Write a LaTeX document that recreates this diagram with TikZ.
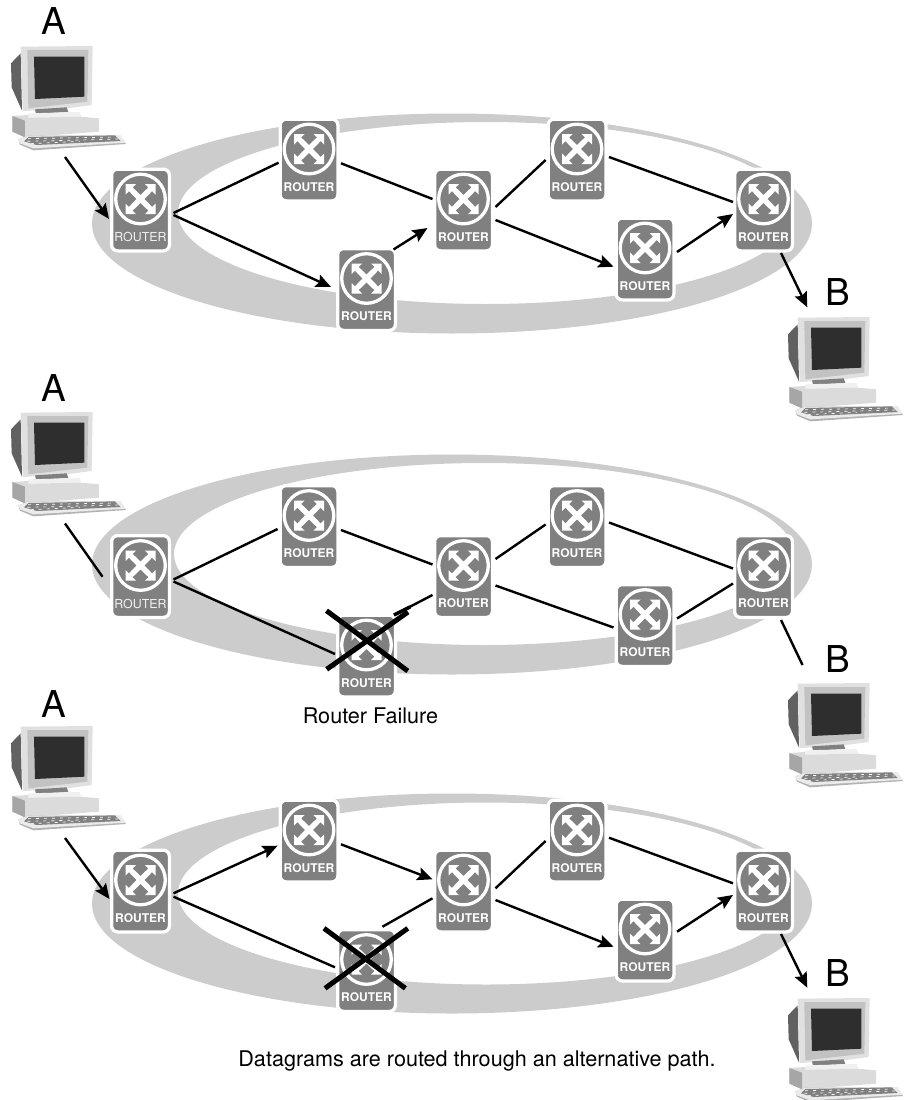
\documentclass[tikz,border=0pt]{standalone}
\usepackage{fontspec}
\setmainfont{TeX Gyre Heros}
\usetikzlibrary{arrows.meta}
\definecolor{ringc}{HTML}{CCCCCC}
\definecolor{routerc}{HTML}{808080}
\tikzset{
  ringfill/.style={fill=ringc,even odd rule},
  routerbox/.style={rectangle,minimum width=57.75pt,minimum height=81.75pt,inner sep=0pt,fill=routerc,draw=white,line width=3.25pt,rounded corners=6pt},
  routerlabel/.style={text=white,inner sep=0pt,font=\fontsize{12}{12}\selectfont\bfseries},
  routerthin/.style={text=black!6,inner sep=0pt,font=\fontsize{12.4}{12}\selectfont},
  pcbox/.style={rectangle,minimum width=116pt,minimum height=106pt,inner sep=0pt},
  conn/.style={line width=2.4pt,black},
  arr/.style={conn,-{Stealth[length=15pt,width=13pt,inset=2.5pt]}},
  crossout/.style={line width=5pt,black},
  bigletter/.style={inner sep=0pt,font=\fontsize{37}{37}\selectfont},
  caption/.style={inner sep=0pt,anchor=base,font=\fontsize{21.6}{23}\selectfont}
}
\newcommand{\routerat}[4][routerlabel]{%
  \node[routerbox] (#2) at (#3,#4) {};
  \begin{scope}[shift={(#2.center)}]
    \draw[white,line width=3.3pt] (0,-11) circle (24.8);
    \begin{scope}[shift={(0,-11)}]
    \fill[white] (15,-15) -- (15,-4.5) -- (11.6,-7.9) -- (3.9,0) -- (11.6,7.9) -- (15,4.5) -- (15,15)
      -- (4.5,15) -- (7.9,11.6) -- (0,3.9) -- (-7.9,11.6) -- (-4.5,15) -- (-15,15) -- (-15,4.5)
      -- (-11.6,7.9) -- (-3.9,0) -- (-11.6,-7.9) -- (-15,-4.5) -- (-15,-15) -- (-4.5,-15)
      -- (-7.9,-11.6) -- (0,-3.9) -- (7.9,-11.6) -- (4.5,-15) -- cycle;
    \end{scope}
    \node[#1] (#2t) at (0,27) {ROUTER};
  \end{scope}}
\newcommand{\computerat}[3]{%
  \node[pcbox] (#1) at (#2+68,#3+100) {};
  \begin{scope}[shift={(#2,#3)},scale=1/3]
    \fill[black!62] (33,190) -- (62,160) -- (66,332) -- (35,262) -- cycle;
    \fill[black!12] (62,140) -- (278,138) -- (275,315) -- (200,325) -- (68,333) -- cycle;
    \fill[black!24] (82,150) -- (265,150) -- (262,305) -- (85,325) -- cycle;
    \fill[black!82] (102,170) -- (253,170) -- (253,290) -- (105,297) -- cycle;
    \fill[black!50] (105,328) -- (200,322) -- (205,336) -- (108,341) -- cycle;
    \fill[black!6] (85,340) -- (240,336) -- (243,350) -- (85,353) -- cycle;
    \fill[black!14] (37,348) -- (85,345) -- (85,353) -- (243,350) -- (297,355) -- (297,395) -- (75,412) -- (37,395) -- cycle;
    \fill[black!35] (37,348) -- (75,362) -- (75,412) -- (37,395) -- cycle;
    \fill[black!30] (55,418) -- (85,407) -- (360,405) -- (378,432) -- (100,451) -- (60,434) -- cycle;
    \fill[black!8] (55,418) -- (85,407) -- (360,405) -- (378,428) -- (100,445) -- (60,430) -- cycle;
    \fill[black!50] (72,424) -- (85,411) -- (345,406) -- (362,423) -- (110,435) -- cycle;
    \draw[white,line width=0.7pt,dash pattern=on 3pt off 5pt] (84,416) -- (350,411);
    \draw[white,line width=0.7pt,dash pattern=on 3pt off 5pt] (82,424) -- (356,417);
    \draw[white,line width=0.7pt,dash pattern=on 3pt off 5pt] (92,431) -- (240,424);
  \end{scope}}
\begin{document}
\begin{tikzpicture}[x=1pt,y=-1pt]
\useasboundingbox (0,0) rectangle (905,1100);
% rings
\fill[ringfill] (452,223.5) ellipse [x radius=360,y radius=110] (486,213) ellipse [x radius=308,y radius=91];
\fill[ringfill] (452,564.5) ellipse [x radius=360,y radius=110] (484,554) ellipse [x radius=310,y radius=91];
\fill[ringfill] (452,903.5) ellipse [x radius=360,y radius=110] (486,893.5) ellipse [x radius=308,y radius=91];
% computers
\computerat{aone}{0}{0}
\computerat{atwo}{0}{366}
\computerat{athree}{0}{680}
\computerat{bone}{777}{271}
\computerat{btwo}{777}{637}
\computerat{bthree}{777}{952}
% panel 1 routers
\routerat[routerthin]{ar}{140.5}{210}
\routerat{br}{309}{160}
\routerat{cr}{463.5}{210}
\routerat{dr}{577}{160}
\routerat{er}{763.5}{210}
\routerat{fr}{366.5}{289.5}
\routerat{gr}{645}{259}
% panel 2 routers
\routerat[routerthin]{ahr}{140.5}{576.5}
\routerat{bhr}{309}{526.5}
\routerat{chr}{463.5}{576.5}
\routerat{dhr}{577}{526.5}
\routerat{ehr}{763.5}{576.5}
\routerat{fhr}{366.5}{656}
\routerat{ghr}{645}{625.5}
% panel 3 routers
\routerat{akr}{140.5}{891}
\routerat{bkr}{309}{841}
\routerat{ckr}{463.5}{891}
\routerat{dkr}{577}{841}
\routerat{ekr}{763.5}{891}
\routerat{fkr}{366.5}{970.5}
\routerat{gkr}{645}{940}
% panel 1 connectors
\draw[arr] ([shift={(-3,57)}]aone.center) -- ([shift={(-31.5,9)}]ar.center);
\draw[conn] ([shift={(33,3)}]ar.center) -- ([shift={(-30.4,2.7)}]br.center);
\draw[conn] ([shift={(32,3.3)}]br.center) -- ([shift={(-31,-11)}]cr.center);
\draw[arr] ([shift={(33,5)}]ar.center) -- ([shift={(-35.5,-2.5)}]fr.center);
\draw[arr] ([shift={(27,-40)}]fr.center) -- ([shift={(-36,18)}]cr.center);
\draw[conn] ([shift={(32,-3)}]cr.center) -- ([shift={(-31.4,0)}]dr.center);
\draw[arr] ([shift={(32,10)}]cr.center) -- ([shift={(-31.5,7.7)}]gr.center);
\draw[conn] ([shift={(32,-3)}]dr.center) -- ([shift={(-30.5,-8)}]er.center);
\draw[arr] ([shift={(32,-7)}]gr.center) -- ([shift={(-30.5,4)}]er.center);
\draw[arr] ([shift={(17.5,43)}]er.center) -- ([shift={(-37.7,-63.7)}]bone.center);
% panel 2 connectors
\draw[conn] ([shift={(-3,57.5)}]atwo.center) -- ([shift={(-38,0.2)}]ahr.center);
\draw[conn] ([shift={(33,3)}]ahr.center) -- ([shift={(-31.4,2.5)}]bhr.center);
\draw[conn] ([shift={(32,3.5)}]bhr.center) -- ([shift={(-31,-12)}]chr.center);
\draw[conn] ([shift={(33,5)}]ahr.center) -- ([shift={(-31.5,-2)}]fhr.center);
\draw[conn] ([shift={(-31,18.5)}]chr.center) -- ([shift={(27.5,-41)}]fhr.center);
\draw[crossout,line width=3.4pt] ([shift={(27.5,-41)}]fhr.center) -- ([shift={(43.5,-49)}]fhr.center);
\draw[conn] ([shift={(32,-17.5)}]chr.center) -- ([shift={(-31.4,-2)}]dhr.center);
\draw[conn] ([shift={(32,9)}]chr.center) -- ([shift={(-31.5,2)}]ghr.center);
\draw[conn] ([shift={(32,-4)}]dhr.center) -- ([shift={(-30.5,-8)}]ehr.center);
\draw[conn] ([shift={(32,-7)}]ghr.center) -- ([shift={(-30.5,7)}]ehr.center);
\draw[conn] ([shift={(17.5,43.5)}]ehr.center) -- ([shift={(-42.5,-72)}]btwo.center);
\draw[crossout] ([shift={(-40,-45.3)}]fhr.center) -- ([shift={(41.3,15)}]fhr.center);
\draw[crossout] ([shift={(-39.8,13.3)}]fhr.center) -- ([shift={(41.5,-44)}]fhr.center);
% panel 3 connectors
\draw[arr] ([shift={(-3,58)}]athree.center) -- ([shift={(-31,8)}]akr.center);
\draw[arr] ([shift={(33,2.3)}]akr.center) -- ([shift={(-31.4,4.7)}]bkr.center);
\draw[arr] ([shift={(32,3.3)}]bkr.center) -- ([shift={(-31,-11.7)}]ckr.center);
\draw[conn] ([shift={(33,5.7)}]akr.center) -- ([shift={(-31.5,-3.2)}]fkr.center);
\draw[conn] ([shift={(-31,7.3)}]ckr.center) -- ([shift={(16,-43.8)}]fkr.center);
\draw[conn] ([shift={(32,-2.7)}]ckr.center) -- ([shift={(-31.4,0)}]dkr.center);
\draw[arr] ([shift={(32,9)}]ckr.center) -- ([shift={(-31.5,6.7)}]gkr.center);
\draw[conn] ([shift={(32,-3.3)}]dkr.center) -- ([shift={(-30.5,-7.7)}]ekr.center);
\draw[arr] ([shift={(32,-8.3)}]gkr.center) -- ([shift={(-30.5,4)}]ekr.center);
\draw[arr] ([shift={(17.5,43)}]ekr.center) -- ([shift={(-37.7,-64.3)}]bthree.center);
\draw[crossout] ([shift={(-42.5,-42.2)}]fkr.center) -- ([shift={(38.9,17.8)}]fkr.center);
\draw[crossout] ([shift={(-41.5,17.8)}]fkr.center) -- ([shift={(41.3,-42.2)}]fkr.center);
% labels
\node[bigletter] (la) at (54,21) {A};
\node[bigletter] (lb) at (838,292.5) {B};
\node[bigletter] (lc) at (54,388) {A};
\node[bigletter] (ld) at (838,659) {B};
\node[bigletter] (le) at (54,704) {A};
\node[bigletter] (lf) at (838,973) {B};
\node[caption] (fail) at (370.5,723) {Router Failure};
\node[caption] (alt) at (477,1066) {Datagrams are routed through an alternative path.};
\end{tikzpicture}
\end{document}
